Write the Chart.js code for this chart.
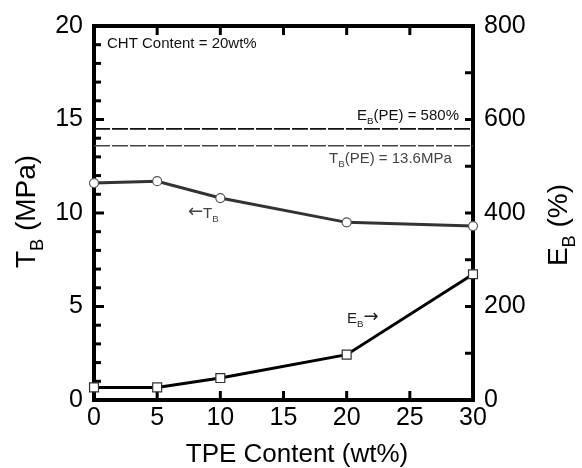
<!DOCTYPE html>
<html><head><meta charset="utf-8">
<script src="https://cdn.jsdelivr.net/npm/chart.js@4/dist/chart.umd.min.js"></script>
<style>html,body{margin:0;padding:0;background:#fff}#wrap{width:582px;height:468px}</style>
</head><body><div id="wrap"><canvas id="c" width="582" height="468"></canvas></div>
<script>
const tpeContent = [0, 5, 10, 20, 30];
const tensileStrength = [11.6, 11.7, 10.8, 9.5, 9.3];
const elongation = [27, 27, 47, 97, 269];
const pePoints = [0, 30];
const peTensile = [13.6, 13.6];
const peElongation = [580, 580];
const xRange = [0, 30];
const tbRange = [0, 20];
const ebRange = [0, 800];

const FONT = '"Liberation Sans", Arial, sans-serif';

function drawSub(ctx, parts, size, x, y, align) {
  const sub = size * 0.65;
  const fontOf = p => (p.s ? sub : (p.z || size)) + 'px ' + (p.f || FONT);
  let w = 0;
  parts.forEach(p => { ctx.font = fontOf(p); p.w = ctx.measureText(p.t).width; w += p.w; });
  let cx = align === 'center' ? x - w / 2 : (align === 'right' ? x - w : x);
  ctx.textAlign = 'left'; ctx.textBaseline = 'alphabetic';
  parts.forEach(p => {
    ctx.font = fontOf(p);
    ctx.fillText(p.t, cx, p.s ? y + size * 0.28 : y + (p.dy || 0));
    cx += p.w;
  });
}

const framePlugin = {
  id: 'frame',
  beforeDatasetsDraw(chart) {
    const ctx = chart.ctx, a = chart.chartArea;
    const sx = chart.scales.x, sy = chart.scales.y, sy1 = chart.scales.y1;
    ctx.save();
    ctx.strokeStyle = '#000';
    ctx.lineWidth = 3;
    ctx.lineCap = 'butt';
    for (let v = tbRange[0]; v <= tbRange[1]; v++) {
      const py = sy.getPixelForValue(v);
      const len = v % 5 === 0 ? 10 : 7;
      ctx.beginPath(); ctx.moveTo(a.left, py); ctx.lineTo(a.left + len, py); ctx.stroke();
    }
    for (let v = ebRange[0]; v <= ebRange[1]; v += 100) {
      const py = sy1.getPixelForValue(v);
      ctx.beginPath(); ctx.moveTo(a.right, py); ctx.lineTo(a.right - 8, py); ctx.stroke();
    }
    for (let v = xRange[0]; v <= xRange[1]; v += 5) {
      const px = sx.getPixelForValue(v);
      ctx.beginPath(); ctx.moveTo(px, a.bottom); ctx.lineTo(px, a.bottom - 9); ctx.stroke();
      ctx.beginPath(); ctx.moveTo(px, a.top); ctx.lineTo(px, a.top + 9); ctx.stroke();
    }
    ctx.lineWidth = 4;
    ctx.strokeRect(a.left, a.top, a.right - a.left, a.bottom - a.top);
    ctx.restore();
  },
  afterDraw(chart) {
    const ctx = chart.ctx;
    ctx.save();
    ctx.fillStyle = '#000';
    ctx.save(); ctx.translate(35, 211.5); ctx.rotate(-Math.PI / 2);
    drawSub(ctx, [{t:'T'},{t:'B',s:1},{t:' (MPa)'}], 28, 0, 0, 'center');
    ctx.restore();
    ctx.save(); ctx.translate(567, 225); ctx.rotate(-Math.PI / 2);
    drawSub(ctx, [{t:'E'},{t:'B',s:1},{t:' (%)'}], 28, 0, 0, 'center');
    ctx.restore();
    drawSub(ctx, [{t:'TPE Content (wt%)'}], 26, 297, 462, 'center');
    ctx.fillStyle = '#111';
    drawSub(ctx, [{t:'CHT Content = 20wt%'}], 15, 107, 48, 'left');
    drawSub(ctx, [{t:'E'},{t:'B',s:1},{t:'(PE) = 580%'}], 15, 357, 120, 'left');
    ctx.fillStyle = '#444';
    drawSub(ctx, [{t:'T'},{t:'B',s:1},{t:'(PE) = 13.6MPa'}], 15, 329, 163, 'left');
    drawSub(ctx, [{t:'\u2190', f:'"DejaVu Sans", sans-serif', z:18, dy:-1},{t:'T'},{t:'B',s:1}], 15, 188, 218, 'left');
    ctx.fillStyle = '#222';
    drawSub(ctx, [{t:'E'},{t:'B',s:1},{t:'\u2192', f:'"DejaVu Sans", sans-serif', z:18, dy:-1}], 15, 347, 323, 'left');
    ctx.restore();
  }
};

new Chart(document.getElementById('c'), {
  type: 'line',
  data: {
    datasets: [
      { label: 'EB(PE)', data: pePoints.map((x, i) => ({x, y: peElongation[i]})), yAxisID: 'y1',
        borderColor: '#111', borderWidth: 1.6, borderDash: [16, 2], pointRadius: 0, fill: false },
      { label: 'TB(PE)', data: pePoints.map((x, i) => ({x, y: peTensile[i]})), yAxisID: 'y',
        borderColor: '#444', borderWidth: 1.6, borderDash: [16, 2], pointRadius: 0, fill: false },
      { label: 'TB', data: tpeContent.map((x, i) => ({x, y: tensileStrength[i]})), yAxisID: 'y',
        borderColor: '#333', borderWidth: 3, pointStyle: 'circle', pointRadius: 4.5,
        pointBackgroundColor: '#fff', pointBorderColor: '#555', pointBorderWidth: 1.2, clip: false },
      { label: 'EB', data: tpeContent.map((x, i) => ({x, y: elongation[i]})), yAxisID: 'y1',
        borderColor: '#000', borderWidth: 3, pointStyle: 'rect', pointRadius: 6.3,
        pointBackgroundColor: '#fff', pointBorderColor: '#333', pointBorderWidth: 1.2, clip: false }
    ]
  },
  options: {
    responsive: false, animation: false, devicePixelRatio: 1,
    layout: { padding: { top: 22, left: 0, right: 0, bottom: 0 } },
    plugins: { legend: { display: false }, tooltip: { enabled: false } },
    scales: {
      x: { type: 'linear', min: xRange[0], max: xRange[1],
        grid: { display: false, drawTicks: false }, border: { display: false },
        ticks: { stepSize: 5, font: { size: 25, family: FONT }, color: '#000', padding: 3, maxRotation: 0 },
        afterFit(s) { s.height = 68; } },
      y: { position: 'left', min: tbRange[0], max: tbRange[1],
        grid: { display: false, drawTicks: false }, border: { display: false },
        ticks: { stepSize: 5, font: { size: 25, family: FONT }, color: '#000', padding: 11 },
        afterFit(s) { s.width = 94; } },
      y1: { position: 'right', min: ebRange[0], max: ebRange[1],
        grid: { display: false, drawTicks: false }, border: { display: false },
        ticks: { stepSize: 200, font: { size: 25, family: FONT }, color: '#000', padding: 11 },
        afterFit(s) { s.width = 109; } }
    }
  },
  plugins: [framePlugin]
});
</script></body></html>
